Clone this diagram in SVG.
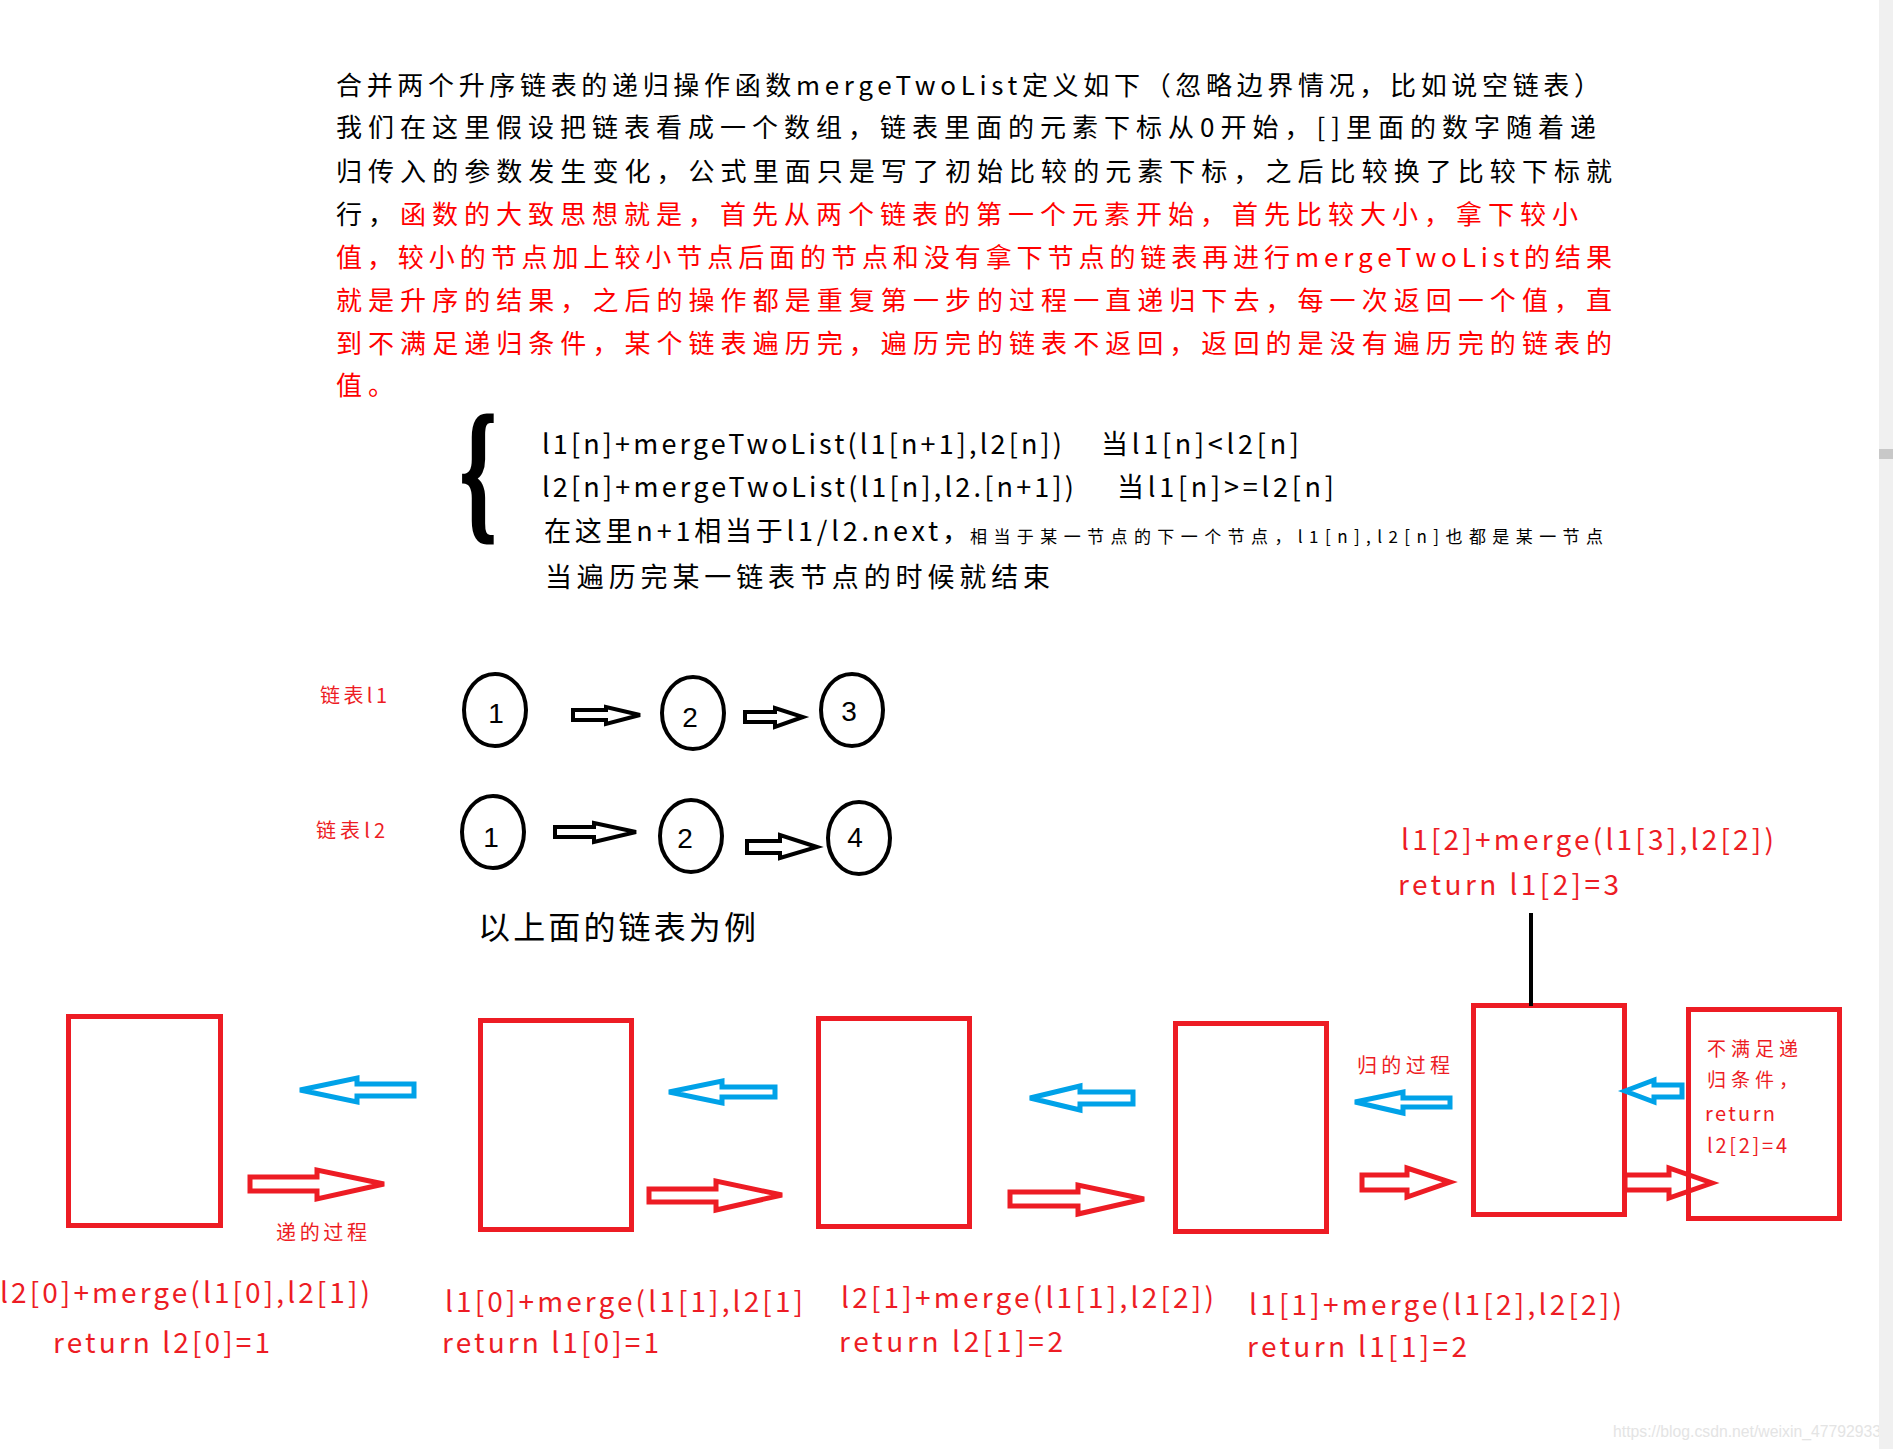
<svg xmlns="http://www.w3.org/2000/svg" width="1893" height="1449" viewBox="0 0 1893 1449">
<style>
.cjk{font-family:"Noto Sans CJK SC","Noto Sans",sans-serif}
.hd{font-size:26px}
.k{fill:#000}
.r{fill:#ff0000}
.lbl{font-size:28px;fill:#ed1c24}
.sm{font-size:20px;fill:#ed1c24}
.box{fill:none;stroke:#ed1c24;stroke-width:5}
.ba{fill:none;stroke:#00a2e8;stroke-width:5}
.ra{fill:none;stroke:#ed1c24;stroke-width:5}
.ka{fill:none;stroke:#000;stroke-width:4}
.cir{fill:none;stroke:#000;stroke-width:4}
.num{font-family:"Liberation Sans",Arial,sans-serif;font-size:28px;fill:#000;text-anchor:middle}
</style>
<rect width="1893" height="1449" fill="#ffffff"/>

<g id="header-text" class="cjk hd">
<text x="336" y="95" class="k" textLength="1264" lengthAdjust="spacing">合并两个升序链表的递归操作函数mergeTwoList定义如下（忽略边界情况，比如说空链表）</text>
<text x="336" y="137" class="k" textLength="1260" lengthAdjust="spacing">我们在这里假设把链表看成一个数组，链表里面的元素下标从0开始，[]里面的数字随着递</text>
<text x="336" y="181" class="k" textLength="1276" lengthAdjust="spacing">归传入的参数发生变化，公式里面只是写了初始比较的元素下标，之后比较换了比较下标就</text>
<text x="336" y="224" textLength="1242" lengthAdjust="spacing"><tspan class="k">行，</tspan><tspan class="r">函数的大致思想就是，首先从两个链表的第一个元素开始，首先比较大小，拿下较小</tspan></text>
<text x="336" y="267" class="r" textLength="1276" lengthAdjust="spacing">值，较小的节点加上较小节点后面的节点和没有拿下节点的链表再进行mergeTwoList的结果</text>
<text x="336" y="310" class="r" textLength="1276" lengthAdjust="spacing">就是升序的结果，之后的操作都是重复第一步的过程一直递归下去，每一次返回一个值，直</text>
<text x="336" y="353" class="r" textLength="1276" lengthAdjust="spacing">到不满足递归条件，某个链表遍历完，遍历完的链表不返回，返回的是没有遍历完的链表的</text>
<text x="336" y="395" class="r" letter-spacing="6">值。</text>
</g>

<g id="formula" class="cjk">
<text transform="translate(460,522) scale(0.6,1)" x="0" y="0" font-family="Liberation Serif, serif" font-weight="bold" font-size="154" fill="#000" stroke="#000" stroke-width="3">{</text>
<text x="542" y="454" font-size="27" class="k" textLength="520" lengthAdjust="spacing">l1[n]+mergeTwoList(l1[n+1],l2[n])</text>
<text x="1101" y="454" font-size="27" class="k" textLength="198" lengthAdjust="spacing">当l1[n]&lt;l2[n]</text>
<text x="542" y="497" font-size="27" class="k" textLength="532" lengthAdjust="spacing">l2[n]+mergeTwoList(l1[n],l2.[n+1])</text>
<text x="1117" y="497" font-size="27" class="k" textLength="217" lengthAdjust="spacing">当l1[n]&gt;=l2[n]</text>
<text x="544" y="541" font-size="27" class="k" textLength="425" lengthAdjust="spacing">在这里n+1相当于l1/l2.next，</text>
<text x="970" y="543" font-size="17" class="k" textLength="633" lengthAdjust="spacing">相当于某一节点的下一个节点，l1[n],l2[n]也都是某一节点</text>
<text x="545" y="587" font-size="27" class="k" textLength="505" lengthAdjust="spacing">当遍历完某一链表节点的时候就结束</text>
</g>

<g id="list-labels" class="cjk">
<text x="320" y="703" class="sm" fill="#ff2020" textLength="67" lengthAdjust="spacing">链表l1</text>
<text x="316" y="838" class="sm" fill="#ff2020" textLength="69" lengthAdjust="spacing">链表l2</text>
<text x="478" y="939" font-size="32" class="k" textLength="278" lengthAdjust="spacing">以上面的链表为例</text>
</g>

<g id="l1-node1"><ellipse class="cir" cx="495" cy="710" rx="31" ry="36"/><text class="num" x="496" y="723">1</text></g>
<g id="l1-node2"><ellipse class="cir" cx="693" cy="713" rx="31" ry="36"/><text class="num" x="690" y="727">2</text></g>
<g id="l1-node3"><ellipse class="cir" cx="852" cy="710" rx="31" ry="36"/><text class="num" x="849" y="721">3</text></g>
<g id="l2-node1"><ellipse class="cir" cx="493" cy="832" rx="31" ry="36"/><text class="num" x="491" y="847">1</text></g>
<g id="l2-node2"><ellipse class="cir" cx="691" cy="836" rx="31" ry="36"/><text class="num" x="685" y="848">2</text></g>
<g id="l2-node3"><ellipse class="cir" cx="859" cy="838" rx="31" ry="36"/><text class="num" x="855" y="847">4</text></g>

<g id="frame1"><rect class="box" x="68.5" y="1016.5" width="152" height="209"/></g>
<g id="frame2"><rect class="box" x="480.5" y="1020.5" width="151" height="209"/></g>
<g id="frame3"><rect class="box" x="818.5" y="1018.5" width="151" height="208"/></g>
<g id="frame4"><rect class="box" x="1175.5" y="1023.5" width="151" height="208"/></g>
<g id="frame5"><rect class="box" x="1473.5" y="1005.5" width="151" height="209"/></g>
<g id="frame6"><rect class="box" x="1688.5" y="1009.5" width="151" height="209"/>
<g class="cjk">
<text x="1707" y="1056" font-size="19" fill="#ed1c24" textLength="91" lengthAdjust="spacing">不满足递</text>
<text x="1707" y="1087" font-size="19" fill="#ed1c24" textLength="91" lengthAdjust="spacing">归条件，</text>
<text x="1705" y="1121" font-size="20" fill="#ed1c24" textLength="70" lengthAdjust="spacing">return</text>
<text x="1707" y="1153" font-size="20" fill="#ed1c24" textLength="80" lengthAdjust="spacing">l2[2]=4</text>
</g>
</g>

<g id="connectors">
<path class="ka" d="M573,710 L606,710 L606,707 L640,715 L606,724 L606,720 L573,720 Z"/>
<path class="ka" d="M745,712 L775,712 L775,708 L803,717 L775,727 L775,722 L745,722 Z"/>
<path class="ka" d="M555,827 L594,827 L594,823 L636,832 L594,842 L594,837 L555,837 Z"/>
<path class="ka" d="M747,841 L780,841 L780,835 L817,847 L780,858 L780,853 L747,853 Z"/>

<path class="ba" d="M300,1090 L357,1078 L357,1084 L414,1084 L414,1096 L357,1096 L357,1102 Z"/>
<path class="ba" d="M669,1092 L722,1081 L722,1087 L775,1087 L775,1097 L722,1097 L722,1103 Z"/>
<path class="ba" d="M1030,1098 L1080,1086 L1080,1092 L1133,1092 L1133,1104 L1080,1104 L1080,1110 Z"/>
<path class="ba" d="M1355,1102 L1403,1092 L1403,1098 L1450,1098 L1450,1107 L1403,1107 L1403,1113 Z"/>
<path class="ba" d="M1625,1091 L1654,1080 L1654,1085 L1682,1085 L1682,1097 L1654,1097 L1654,1102 Z"/>

<path class="ra" d="M250,1177 L317,1177 L317,1170 L384,1184 L317,1199 L317,1191 L250,1191 Z"/>
<path class="ra" d="M649,1189 L716,1189 L716,1181 L782,1195 L716,1210 L716,1202 L649,1202 Z"/>
<path class="ra" d="M1010,1192 L1078,1192 L1078,1185 L1144,1199 L1078,1214 L1078,1206 L1010,1206 Z"/>
<path class="ra" d="M1362,1175 L1407,1175 L1407,1168 L1450,1182 L1407,1197 L1407,1190 L1362,1190 Z"/>
<path class="ra" d="M1625,1175 L1669,1175 L1669,1168 L1712,1183 L1669,1198 L1669,1190 L1625,1190 Z"/>

<line x1="1531" y1="913" x2="1531" y2="1006" stroke="#000" stroke-width="4"/>
</g>

<g id="labels" class="cjk">
<text x="276" y="1240" class="sm" textLength="91" lengthAdjust="spacing">递的过程</text>
<text x="1357" y="1073" class="sm" textLength="93" lengthAdjust="spacing">归的过程</text>
<text x="1401" y="850" class="lbl" textLength="373" lengthAdjust="spacing">l1[2]+merge(l1[3],l2[2])</text>
<text x="1398" y="895" class="lbl" textLength="221" lengthAdjust="spacing">return l1[2]=3</text>
<text x="0" y="1303" class="lbl" textLength="370" lengthAdjust="spacing">l2[0]+merge(l1[0],l2[1])</text>
<text x="53" y="1353" class="lbl" textLength="217" lengthAdjust="spacing">return l2[0]=1</text>
<text x="445" y="1312" class="lbl" textLength="358" lengthAdjust="spacing">l1[0]+merge(l1[1],l2[1]</text>
<text x="442" y="1353" class="lbl" textLength="217" lengthAdjust="spacing">return l1[0]=1</text>
<text x="841" y="1308" class="lbl" textLength="373" lengthAdjust="spacing">l2[1]+merge(l1[1],l2[2])</text>
<text x="839" y="1352" class="lbl" textLength="224" lengthAdjust="spacing">return l2[1]=2</text>
<text x="1249" y="1315" class="lbl" textLength="373" lengthAdjust="spacing">l1[1]+merge(l1[2],l2[2])</text>
<text x="1247" y="1357" class="lbl" textLength="220" lengthAdjust="spacing">return l1[1]=2</text>
</g>

<text x="1613" y="1437" font-family="Liberation Sans, Arial, sans-serif" font-size="16" fill="#e4e4e4" textLength="268" lengthAdjust="spacingAndGlyphs">https://blog.csdn.net/weixin_47792933</text>
<rect x="1879" y="0" width="14" height="1449" fill="#f0f0f0"/>
<rect x="1879" y="449" width="14" height="10" fill="#c8c8c8"/>
</svg>
